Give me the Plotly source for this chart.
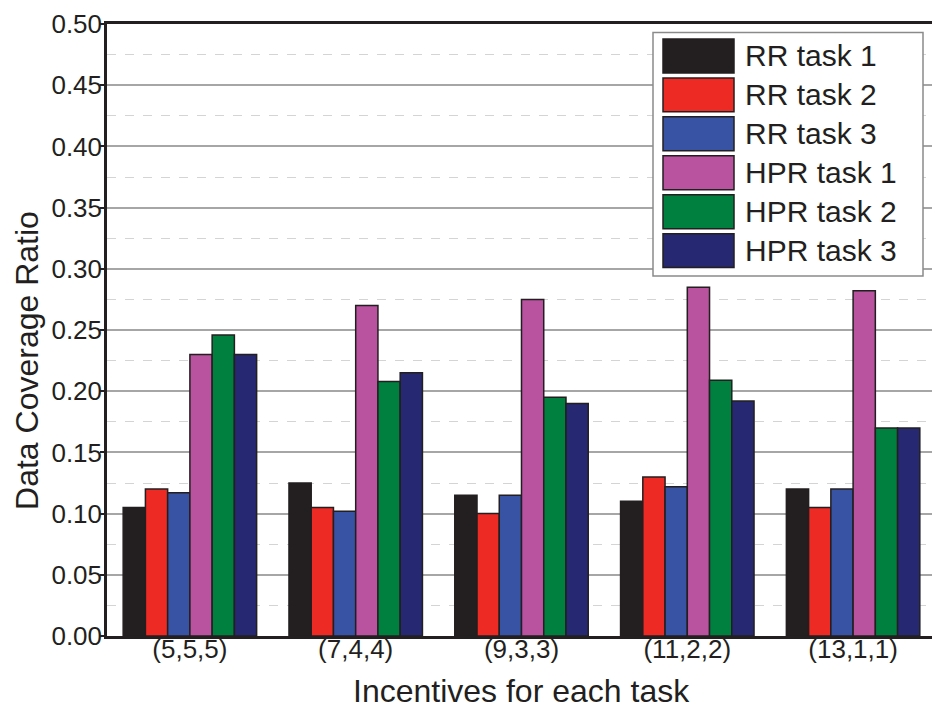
import plotly.graph_objects as go

categories = ["(5,5,5)", "(7,4,4)", "(9,3,3)", "(11,2,2)", "(13,1,1)"]
series_names = ["RR task 1", "RR task 2", "RR task 3", "HPR task 1", "HPR task 2", "HPR task 3"]
rr_task1 = [0.105, 0.125, 0.115, 0.110, 0.120]
rr_task2 = [0.120, 0.105, 0.100, 0.130, 0.105]
rr_task3 = [0.117, 0.102, 0.115, 0.122, 0.120]
hpr_task1 = [0.230, 0.270, 0.275, 0.285, 0.282]
hpr_task2 = [0.246, 0.208, 0.195, 0.209, 0.170]
hpr_task3 = [0.230, 0.215, 0.190, 0.192, 0.170]
series_values = [rr_task1, rr_task2, rr_task3, hpr_task1, hpr_task2, hpr_task3]
colors = ["#231f20", "#ee2a24", "#3953a4", "#b9529f", "#00803f", "#262872"]
y_ticks = [0.0, 0.05, 0.10, 0.15, 0.20, 0.25, 0.30, 0.35, 0.40, 0.45, 0.50]

FONT = "Liberation Sans, Arial, sans-serif"
DARK = "#231f20"

# The page body adds an 8px offset; lay the figure out in page pixels minus it.
OFF = 8
W, H = 940, 709
PL, PR, PT, PB = 107, 936, 23.5, 636.5   # plot area edges in page pixels
L = PL - OFF
T = PT - OFF
R = W - (PR - OFF)
B = H - (PB - OFF)
plot_w = PR - PL
plot_h = PB - PT

fig = go.Figure()
for name, vals, col in zip(series_names, series_values, colors):
    fig.add_trace(go.Bar(
        x=categories, y=vals, name=name, marker_color=col,
        marker_line_color=DARK, marker_line_width=1.5, showlegend=False,
    ))

def px_x(p):
    return (p - PL) / plot_w

def px_y(p):
    return (PB - p) / plot_h

shapes = []
annotations = []
# Legend box
shapes.append(dict(type="rect", xref="paper", yref="paper",
                   x0=px_x(653), x1=px_x(923), y0=px_y(276), y1=px_y(32),
                   fillcolor="white", line=dict(color="#8a8a8a", width=1.5), layer="above"))
for i, (name, col) in enumerate(zip(series_names, colors)):
    top = 38.5 + 39 * i
    shapes.append(dict(type="rect", xref="paper", yref="paper",
                       x0=px_x(663), x1=px_x(734), y0=px_y(top + 34), y1=px_y(top),
                       fillcolor=col, line=dict(color=DARK, width=1.5), layer="above"))
    annotations.append(dict(xref="paper", yref="paper", x=px_x(743), y=px_y(top + 17),
                            text=name, showarrow=False, xanchor="left", yanchor="middle",
                            font=dict(family=FONT, size=30, color=DARK)))

# Y axis title
annotations.append(dict(xref="paper", yref="paper", x=px_x(27), y=px_y(361),
                        text="Data Coverage Ratio", textangle=-90, showarrow=False,
                        xanchor="center", yanchor="middle",
                        font=dict(family=FONT, size=32, color=DARK)))
# X axis title
annotations.append(dict(xref="paper", yref="paper", x=0.5, y=px_y(692),
                        text="Incentives for each task", showarrow=False,
                        xanchor="center", yanchor="middle",
                        font=dict(family=FONT, size=32, color=DARK)))

fig.update_layout(
    width=W, height=H,
    margin=dict(l=L, r=R, t=T, b=B, autoexpand=False),
    paper_bgcolor="white", plot_bgcolor="white",
    barmode="group", bargap=0.195, bargroupgap=0,
    font=dict(family=FONT, color=DARK),
    shapes=shapes, annotations=annotations,
    showlegend=False,
)
fig.update_xaxes(
    type="category", range=[-0.5, 4.5],
    showline=True, linecolor=DARK, linewidth=2.5, mirror=True,
    ticks="", showgrid=False, automargin=False, ticklabelstandoff=-12,
    tickfont=dict(family=FONT, size=26, color=DARK),
)
fig.update_yaxes(
    range=[0, 0.5], tickvals=y_ticks, ticktext=[f"{v:.2f}" for v in y_ticks],
    showline=True, linecolor=DARK, linewidth=2.5, mirror=True,
    ticks="outside", ticklen=4, tickwidth=1.5, tickcolor=DARK,
    ticklabelstandoff=-7,
    showgrid=True, gridcolor="#a6a6a6", gridwidth=1.5,
    minor=dict(dtick=0.025, tick0=0, showgrid=True, gridcolor="#d4d4d4",
               griddash="dash", gridwidth=1),
    tickfont=dict(family=FONT, size=26, color=DARK),
    zeroline=False, automargin=False,
)

fig.write_html("out.html")
